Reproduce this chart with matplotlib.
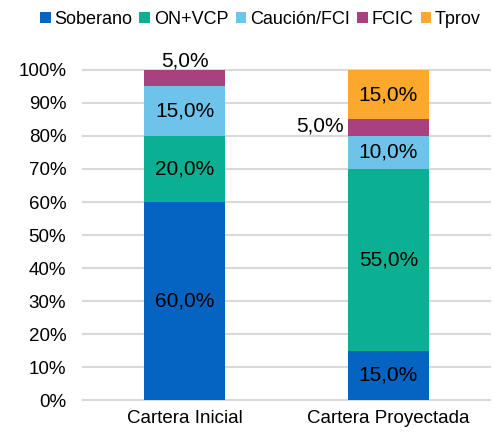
import numpy as np
import matplotlib.pyplot as plt

plt.rcParams['font.family'] = ['Liberation Sans', 'DejaVu Sans']

categories = ["Cartera Inicial", "Cartera Proyectada"]
series = ["Soberano", "ON+VCP", "Caución/FCI", "FCIC", "Tprov"]
values = {
    "Soberano": [0.60, 0.15],
    "ON+VCP": [0.20, 0.55],
    "Caución/FCI": [0.15, 0.10],
    "FCIC": [0.05, 0.05],
    "Tprov": [0.0, 0.15],
}
colors = ["#0563C1", "#0BB093", "#6EC3EA", "#A9417F", "#FBA82B"]
yticks = np.arange(0, 1.01, 0.1)

fig = plt.figure(figsize=(4.94, 4.32), dpi=100)
ax = fig.add_axes([0.168, 0.074, 0.824, 0.764])

x = np.arange(len(categories))
bottom = np.zeros(len(categories))
for name, col in zip(series, colors):
    v = np.array(values[name])
    ax.bar(x, v, 0.4, bottom=bottom, color=col, label=name, zorder=3)
    for i in range(len(categories)):
        if v[i] <= 0:
            continue
        txt = f"{v[i]*100:.1f}%".replace(".", ",")
        if name == "FCIC" and i == 0:
            ax.text(x[i], bottom[i] + v[i] - 0.003, txt, ha="center", va="bottom",
                    fontsize=15, clip_on=False)
        elif name == "FCIC" and i == 1:
            ax.text(x[i] - 0.22, bottom[i] + v[i] / 2 + 0.005, txt, ha="right", va="center",
                    fontsize=15)
        else:
            ax.text(x[i], bottom[i] + v[i] / 2, txt, ha="center", va="center",
                    fontsize=15)
    bottom += v

ax.set_xlim(-0.5, 1.5)
ax.set_ylim(0, 1)
ax.set_yticks(yticks)
ax.set_yticklabels([f"{int(round(t*100))}%" for t in yticks], fontsize=13.5)
ax.set_xticks(x)
ax.set_xticklabels(categories, fontsize=13.5)
ax.tick_params(length=0, pad=7)
ax.tick_params(axis="y", pad=12)
for s in ["top", "right", "left"]:
    ax.spines[s].set_visible(False)
ax.spines["bottom"].set_color("#D9D9D9")
ax.spines["bottom"].set_linewidth(1.5)
for t in yticks[1:]:
    ax.axhline(t, color="#D9D9D9", lw=1.5, zorder=0, clip_on=False)

fig.legend(loc="upper center", bbox_to_anchor=(0.527, 1.0), ncol=5, frameon=False,
           fontsize=13, handlelength=0.6, handleheight=0.6, handletextpad=0.2,
           columnspacing=0.4, borderaxespad=0.2)

fig.savefig("out.png", dpi=100)
